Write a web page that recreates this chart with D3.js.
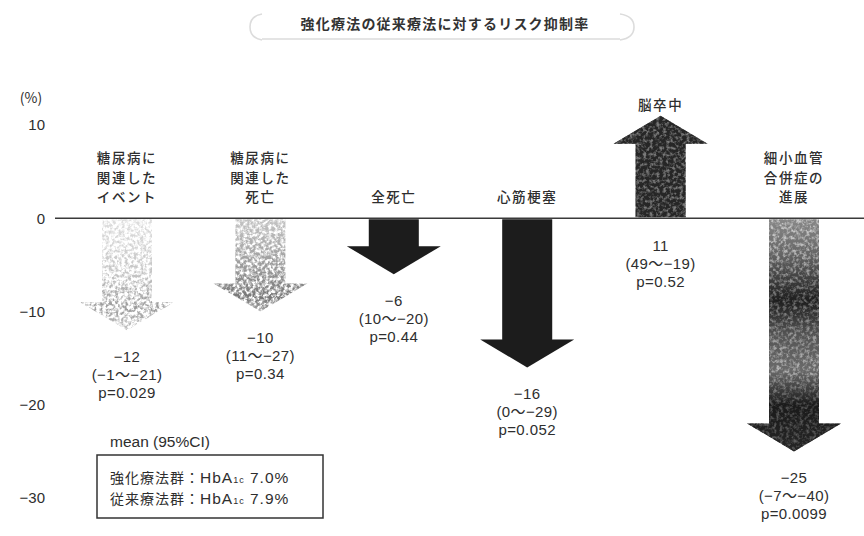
<!DOCTYPE html>
<html lang="ja">
<head>
<meta charset="utf-8">
<script src="https://cdn.jsdelivr.net/npm/d3@7/dist/d3.min.js"></script>
<style>
  html, body { margin: 0; padding: 0; background: #fff; }
  svg { display: block; font-family: "Noto Sans CJK JP", "Noto Sans", sans-serif; }
</style>
</head>
<body>
<svg id="chart" width="864" height="536"></svg>
<script>
// Risk reduction of intensive vs. conventional therapy (mean, 95% CI, p)
const categories = ["糖尿病に関連したイベント", "糖尿病に関連した死亡", "全死亡", "心筋梗塞", "脳卒中", "細小血管合併症の進展"];
const categoryLines = [
  ["糖尿病に", "関連した", "イベント"],
  ["糖尿病に", "関連した", "死亡"],
  ["全死亡"],
  ["心筋梗塞"],
  ["脳卒中"],
  ["細小血管", "合併症の", "進展"]
];
const meanChange = [-12, -10, -6, -16, 11, -25];
const ciUpper = [-1, 11, 10, 0, 49, -7];
const ciLower = [-21, -27, -20, -29, -19, -40];
const pValues = ["0.029", "0.34", "0.44", "0.052", "0.52", "0.0099"];
const yTicks = [10, 0, -10, -20, -30];
const legendRows = [
  { group: "強化療法群", hba1c: "7.0" },
  { group: "従来療法群", hba1c: "7.9" }
];

const W = 864, H = 536;
const svg = d3.select("#chart");
const ink = "#2e2e2e";
const numFont = "'Liberation Sans', 'Noto Sans CJK JP', sans-serif";

const y = d3.scaleLinear().domain([-30, 10]).range([498, 125]);
const x = d3.scalePoint().domain(categories).range([127, 794]);

const fmt = v => (v < 0 ? "−" + Math.abs(v) : String(v));

// ---- fills: gradients and grain filters for the stippled arrows ----
const defs = svg.append("defs");

function grain(id, gain, offset, freq, seed) {
  const f = defs.append("filter").attr("id", id)
    .attr("x", "-5%").attr("y", "-5%").attr("width", "110%").attr("height", "110%")
    .attr("color-interpolation-filters", "sRGB");
  f.append("feTurbulence").attr("type", "fractalNoise")
    .attr("baseFrequency", freq).attr("numOctaves", 3).attr("seed", seed).attr("result", "n");
  f.append("feColorMatrix").attr("in", "n").attr("type", "matrix")
    .attr("values", `0 0 0 0 0  0 0 0 0 0  0 0 0 0 0  ${gain} 0 0 0 ${offset}`).attr("result", "m");
  f.append("feComposite").attr("in", "SourceGraphic").attr("in2", "m").attr("operator", "in").attr("result", "c");
  f.append("feGaussianBlur").attr("in", "c").attr("stdDeviation", 0.5);
}
grain("grainLight", 3.4, -1.35, 0.32, 4);
grain("grainMid", 3.2, -1.0, 0.32, 9);
grain("grainDense", 3.0, -0.7, 0.3, 2);

const soft = defs.append("filter").attr("id", "soft");
soft.append("feGaussianBlur").attr("stdDeviation", 0.5);

function gradient(id, stops) {
  const g = defs.append("linearGradient").attr("id", id)
    .attr("x1", 0).attr("y1", 0).attr("x2", 0).attr("y2", 1);
  stops.forEach(([o, c]) => g.append("stop").attr("offset", o).attr("stop-color", c));
}
gradient("gEvent", [[0, "#dedede"], [0.5, "#c4c4c4"], [0.8, "#9a9a9a"], [1, "#c4c4c4"]]);
gradient("gDeath", [[0, "#c4c4c4"], [0.55, "#989898"], [0.85, "#777"], [1, "#a6a6a6"]]);
gradient("gMicroBase", [[0, "#d0d0d0"], [0.15, "#b8b8b8"], [0.35, "#6a6a6a"], [0.5, "#9a9a9a"], [0.65, "#b4b4b4"], [0.8, "#505050"], [1, "#606060"]]);
gradient("gMicro", [[0, "#888"], [0.15, "#666"], [0.35, "#1e1e1e"], [0.5, "#555"], [0.65, "#6a6a6a"], [0.8, "#1a1a1a"], [1, "#262626"]]);

// base layer under the grain (none = paper white)
const arrowLook = {
  "糖尿病に関連したイベント": { base: null, fill: "url(#gEvent)", filter: "url(#grainLight)" },
  "糖尿病に関連した死亡": { base: null, fill: "url(#gDeath)", filter: "url(#grainMid)" },
  "全死亡": { base: null, fill: "#1c1c1c", filter: "url(#soft)" },
  "心筋梗塞": { base: null, fill: "#1c1c1c", filter: "url(#soft)" },
  "脳卒中": { base: "#7a7a7a", fill: "#262626", filter: "url(#grainDense)" },
  "細小血管合併症の進展": { base: "url(#gMicroBase)", fill: "url(#gMicro)", filter: "url(#grainDense)" }
};

// ---- title ----
const title = svg.append("g");
title.append("path")
  .attr("d", "M262,14 Q250,16 250,27 Q250,38 262,40 M620,14 Q634,16 634,27 Q634,38 620,40 M262,39 L620,39")
  .attr("fill", "none").attr("stroke", "#dcdcdc").attr("stroke-width", 1.6);
title.append("text")
  .attr("x", 445).attr("y", 23).attr("text-anchor", "middle").attr("dominant-baseline", "central")
  .attr("font-size", 14).attr("font-weight", 700).attr("letter-spacing", 1.2)
  .attr("fill", "#333")
  .text("強化療法の従来療法に対するリスク抑制率");

// ---- y axis ----
svg.append("text").attr("x", 31).attr("y", 97).attr("text-anchor", "middle")
  .attr("dominant-baseline", "central").attr("font-size", 14).attr("fill", ink).text("(%)");

const yAxis = svg.append("g").attr("transform", "translate(45,0)")
  .call(d3.axisLeft(y).tickValues(yTicks).tickSize(0).tickPadding(0).tickFormat(fmt));
yAxis.select(".domain").remove();
yAxis.selectAll("text").attr("font-size", 15).attr("fill", ink)
  .attr("font-family", numFont);

// zero line
svg.append("line").attr("x1", 55).attr("x2", W).attr("y1", y(0)).attr("y2", y(0))
  .attr("stroke", "#3a3a3a").attr("stroke-width", 1.6);

// ---- arrows ----
const bodyHalf = 25, headHalf = 47, headLen = 28;
function arrowPath(cx, y0, tip) {
  const dir = tip > y0 ? 1 : -1;
  const base = tip - dir * headLen;
  return d3.line()([
    [cx - bodyHalf, y0], [cx - bodyHalf, base], [cx - headHalf, base], [cx, tip],
    [cx + headHalf, base], [cx + bodyHalf, base], [cx + bodyHalf, y0]
  ]) + "Z";
}
const arrowD = d => arrowPath(x(d.cat), d.v < 0 ? y(0) + 1 : y(0) - 1, y(d.v));

const items = categories.map((c, i) => ({
  cat: c, lines: categoryLines[i], v: meanChange[i],
  hi: ciUpper[i], lo: ciLower[i], p: pValues[i]
}));

const g = svg.append("g");
g.selectAll("path.arrow-base").data(items.filter(d => arrowLook[d.cat].base)).join("path")
  .attr("class", "arrow-base")
  .attr("d", arrowD)
  .attr("fill", d => arrowLook[d.cat].base)
  .attr("filter", "url(#soft)");
g.selectAll("path.arrow").data(items).join("path")
  .attr("class", "arrow")
  .attr("d", arrowD)
  .attr("fill", d => arrowLook[d.cat].fill)
  .attr("filter", d => arrowLook[d.cat].filter);

// category labels
const lineGap = 19.5;
items.forEach(d => {
  const cx = x(d.cat);
  const n = d.lines.length;
  const lastY = d.v < 0 ? y(0) - 22 : y(d.v) - 12;
  d.lines.forEach((t, k) => {
    g.append("text").attr("x", cx).attr("y", lastY - (n - 1 - k) * lineGap)
      .attr("text-anchor", "middle").attr("dominant-baseline", "central")
      .attr("font-size", 13.5).attr("font-weight", 500).attr("letter-spacing", 1.6)
      .attr("fill", ink).text(t);
  });
});

// value labels: mean, (CI), p
const valGap = 18;
items.forEach(d => {
  const cx = x(d.cat);
  const top = d.v < 0 ? y(d.v) + 26 : y(0) + 27;
  const rows = [fmt(d.v), "(" + fmt(d.hi) + "〜" + fmt(d.lo) + ")", "p=" + d.p];
  rows.forEach((t, k) => {
    g.append("text").attr("x", cx).attr("y", top + k * valGap)
      .attr("text-anchor", "middle").attr("dominant-baseline", "central")
      .attr("font-family", numFont).attr("font-size", 15).attr("letter-spacing", 0.4)
      .attr("fill", ink).text(t);
  });
});

// ---- legend ----
svg.append("text").attr("x", 110).attr("y", 441).attr("dominant-baseline", "central")
  .attr("font-family", numFont).attr("font-size", 15.5).attr("fill", ink).text("mean (95%CI)");
svg.append("rect").attr("x", 97).attr("y", 455).attr("width", 226).attr("height", 63)
  .attr("fill", "none").attr("stroke", "#333").attr("stroke-width", 1.5);
legendRows.forEach((r, k) => {
  const t = svg.append("text").attr("x", 110).attr("y", 477 + k * 21)
    .attr("dominant-baseline", "central").attr("font-size", 14).attr("letter-spacing", 1)
    .attr("fill", ink);
  t.append("tspan").text(r.group + "：");
  t.append("tspan").attr("font-family", numFont).attr("font-size", 15.5).text("HbA");
  t.append("tspan").attr("font-family", numFont).attr("font-size", 9).attr("dy", 3).text("1c");
  t.append("tspan").attr("font-family", numFont).attr("font-size", 15.5).attr("dy", -3).text(" " + r.hba1c + "%");
});
</script>
</body>
</html>
